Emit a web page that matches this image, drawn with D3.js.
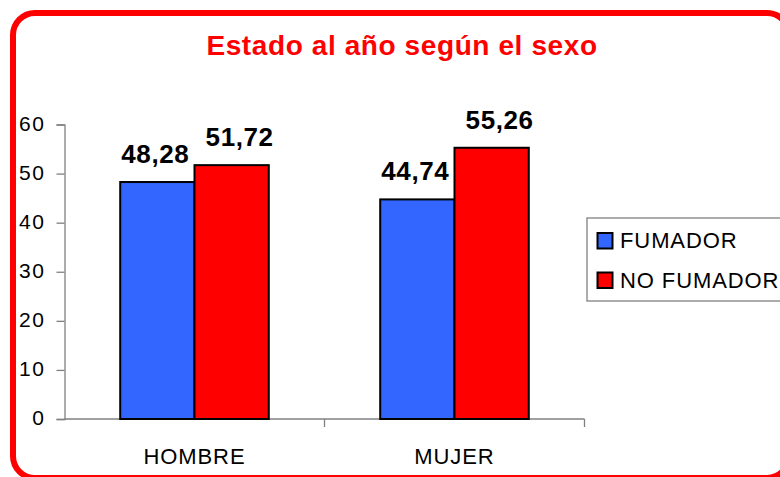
<!DOCTYPE html>
<html>
<head>
<meta charset="utf-8">
<script src="https://cdn.jsdelivr.net/npm/d3@7"></script>
<style>
  html, body { margin: 0; padding: 0; background: #fff; }
  svg { display: block; font-family: "Liberation Sans", Arial, sans-serif; }
</style>
</head>
<body>
<svg id="chart" width="780" height="477"></svg>
<script>
// Smoking status one year on, by sex (percent)
const categories = ["HOMBRE", "MUJER"];
const seriesNames = ["FUMADOR", "NO FUMADOR"];
const fumador = [48.28, 44.74];
const noFumador = [51.72, 55.26];
const yTicks = [0, 10, 20, 30, 40, 50, 60];
const seriesColors = ["#3366FF", "#FF0000"];
const titleText = "Estado al año según el sexo";

const seriesValues = [fumador, noFumador];
const fmt = v => v.toFixed(2).replace(".", ",");

const svg = d3.select("#chart");

// rounded red frame
svg.append("rect")
  .attr("x", 13).attr("y", 13)
  .attr("width", 776).attr("height", 465)
  .attr("rx", 22).attr("ry", 22)
  .attr("fill", "#fff")
  .attr("stroke", "#FF0000")
  .attr("stroke-width", 6);

// title
svg.append("text")
  .attr("x", 402).attr("y", 55)
  .attr("text-anchor", "middle")
  .attr("font-size", 28)
  .attr("font-weight", "bold")
  .attr("letter-spacing", 0.6)
  .attr("fill", "#FF0000")
  .text(titleText);

// scales
const x0 = d3.scaleBand().domain(categories).range([64.5, 584.5]).padding(0);
const groupW = x0.bandwidth() * 2 / 3.5;          // 150% gap width
const x1 = d3.scaleBand().domain(d3.range(seriesNames.length))
  .range([(x0.bandwidth() - groupW) / 2, (x0.bandwidth() + groupW) / 2]).padding(0);
const y = d3.scaleLinear().domain([0, 60]).range([419, 124.5]);

// y axis
const yAxis = svg.append("g")
  .attr("transform", "translate(64.5,0)")
  .call(d3.axisLeft(y).tickValues(yTicks).tickSize(8).tickPadding(11).tickFormat(d3.format("d")));
yAxis.select(".domain").attr("stroke", "#808080").attr("stroke-width", 1.3);
yAxis.selectAll(".tick line").attr("stroke", "#808080").attr("stroke-width", 1.3);
yAxis.selectAll(".tick text")
  .attr("fill", "#000")
  .attr("font-size", 21)
  .attr("letter-spacing", 1.6)
  .attr("dy", "0.27em")
  .style("font-family", "'Liberation Sans', Arial, sans-serif");

// x axis: baseline with ticks between categories
const xAxis = svg.append("g");
const xr = x0.range();
xAxis.append("line")
  .attr("x1", xr[0]).attr("x2", xr[1])
  .attr("y1", y(0)).attr("y2", y(0))
  .attr("stroke", "#808080").attr("stroke-width", 1.3);
const bounds = categories.map(c => x0(c) + x0.bandwidth());
xAxis.selectAll("line.tick")
  .data(bounds)
  .join("line")
  .attr("class", "tick")
  .attr("x1", d => d).attr("x2", d => d)
  .attr("y1", y(0)).attr("y2", y(0) + 8)
  .attr("stroke", "#808080").attr("stroke-width", 1.3);
xAxis.selectAll("text")
  .data(categories)
  .join("text")
  .attr("x", d => x0(d) + x0.bandwidth() / 2)
  .attr("y", 464)
  .attr("text-anchor", "middle")
  .attr("font-size", 22)
  .attr("letter-spacing", 0.9)
  .attr("fill", "#000")
  .text(d => d);

// bars
const groups = svg.append("g").selectAll("g")
  .data(categories)
  .join("g")
  .attr("transform", d => `translate(${x0(d)},0)`);

groups.selectAll("rect")
  .data((d, i) => seriesValues.map((s, k) => ({ k, v: s[i] })))
  .join("rect")
  .attr("x", d => x1(d.k))
  .attr("y", d => y(d.v))
  .attr("width", x1.bandwidth())
  .attr("height", d => y(0) - y(d.v))
  .attr("fill", d => seriesColors[d.k])
  .attr("stroke", "#000")
  .attr("stroke-width", 2);

// value labels
const labelDx = [-2, 8];
groups.selectAll("text")
  .data((d, i) => seriesValues.map((s, k) => ({ k, v: s[i] })))
  .join("text")
  .attr("x", d => x1(d.k) + x1.bandwidth() / 2 + labelDx[d.k])
  .attr("y", d => y(d.v) - 19)
  .attr("text-anchor", "middle")
  .attr("font-size", 26)
  .attr("font-weight", "bold")
  .attr("letter-spacing", 0.6)
  .attr("fill", "#000")
  .text(d => fmt(d.v));

// legend
const legend = svg.append("g");
legend.append("rect")
  .attr("x", 587).attr("y", 218)
  .attr("width", 210).attr("height", 83)
  .attr("fill", "#fff")
  .attr("stroke", "#808080")
  .attr("stroke-width", 1.3);
const items = legend.selectAll("g.item")
  .data(seriesNames)
  .join("g")
  .attr("class", "item")
  .attr("transform", (d, i) => `translate(0,${i * 39.5})`);
items.append("rect")
  .attr("x", 597.5).attr("y", 233)
  .attr("width", 15).attr("height", 15.5)
  .attr("fill", (d, i) => seriesColors[i])
  .attr("stroke", "#000")
  .attr("stroke-width", 2);
items.append("text")
  .attr("x", 620).attr("y", 248)
  .attr("font-size", 22)
  .attr("letter-spacing", 0.9)
  .attr("fill", "#000")
  .text(d => d);
</script>
</body>
</html>
